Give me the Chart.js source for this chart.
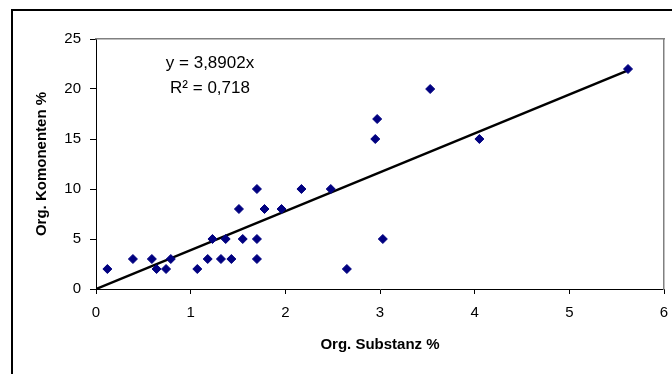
<!DOCTYPE html>
<html>
<head>
<meta charset="utf-8">
<script src="https://cdn.jsdelivr.net/npm/chart.js@4.4.1/dist/chart.umd.min.js"></script>
<style>
  html, body { margin: 0; padding: 0; background: #fff; overflow: hidden; }
  #wrap { width: 672px; height: 374px; overflow: hidden; }
  #chart { display: block; }
</style>
</head>
<body>
<div id="wrap"><canvas id="chart" width="672" height="374"></canvas></div>
<script>
// Data
const orgSubstanz = [0.12, 0.39, 0.59, 0.64, 0.74, 0.79, 1.07, 1.18, 1.23, 1.32, 1.37, 1.43,
    1.51, 1.55, 1.70, 1.70, 1.70, 1.78, 1.96, 2.17, 2.48, 2.65, 2.95, 2.97, 3.03, 3.53, 4.05, 5.62];
const orgKomponenten = [2, 3, 3, 2, 2, 3, 2, 3, 5, 3, 5, 3,
    8, 5, 10, 5, 3, 8, 8, 10, 10, 2, 15, 17, 5, 20, 15, 22];
const trendSlope = 3.8902;
const trendR2 = '0,718';
const xTicks = [0, 1, 2, 3, 4, 5, 6];
const yTicks = [0, 5, 10, 15, 20, 25];

const FONT = "'Liberation Sans', Arial, sans-serif";

document.addEventListener('DOMContentLoaded', () => {
    const points = orgSubstanz.map((x, i) => ({ x: x, y: orgKomponenten[i] }));
    const maxX = Math.max(...orgSubstanz);
    const trend = [{ x: 0, y: 0 }, { x: maxX, y: trendSlope * maxX }];

    // outer chart border + equation text
    const decor = {
        id: 'decor',
        afterDraw(chart) {
            const { ctx } = chart;
            ctx.save();
            ctx.strokeStyle = '#000';
            ctx.lineWidth = 2;
            ctx.beginPath();
            ctx.moveTo(12, 374);
            ctx.lineTo(12, 10);
            ctx.lineTo(672, 10);
            ctx.stroke();
            ctx.fillStyle = '#000';
            ctx.font = '17px ' + FONT;
            ctx.textAlign = 'center';
            ctx.textBaseline = 'middle';
            const eq = 'y = ' + trendSlope.toString().replace('.', ',') + 'x';
            ctx.fillText(eq, 210, 63);
            ctx.fillText('R\u00B2 = ' + trendR2, 210, 88);
            ctx.restore();
        }
    };

    // empty top/right axes only to draw the gray plot frame
    const frameAxis = (pos, min, max) => ({
        type: 'linear',
        position: pos,
        min: min,
        max: max,
        afterFit: (s) => {
            if (s.isHorizontal()) s.height = 0; else s.width = 0;
            s.paddingLeft = 0; s.paddingRight = 0; s.paddingTop = 0; s.paddingBottom = 0;
        },
        grid: { display: false, drawTicks: false },
        ticks: { display: false },
        border: { display: true, color: '#808080', width: 1.5 }
    });

    new Chart(document.getElementById('chart'), {
        type: 'scatter',
        data: {
            datasets: [{
                label: 'Proben',
                data: points,
                pointStyle: 'rectRot',
                radius: 4.5,
                backgroundColor: '#000080',
                borderColor: '#000080',
                borderWidth: 1,
                order: 1
            }, {
                type: 'line',
                label: 'Trend',
                data: trend,
                borderColor: '#000',
                borderWidth: 2.5,
                pointRadius: 0,
                fill: false,
                order: 2
            }]
        },
        options: {
            responsive: false,
            animation: false,
            events: [],
            layout: { padding: { left: 0, top: 39, right: 8, bottom: 0 } },
            plugins: {
                legend: { display: false },
                tooltip: { enabled: false }
            },
            scales: {
                x: {
                    type: 'linear',
                    min: 0,
                    max: 6,
                    afterFit: (s) => { s.height = 85; s.paddingRight = 0; s.paddingLeft = 0; },
                    afterBuildTicks: (s) => { s.ticks = xTicks.map(v => ({ value: v })); },
                    grid: { drawOnChartArea: false, drawTicks: true, tickLength: 5, color: '#000' },
                    border: { display: true, color: '#000', width: 1 },
                    ticks: { color: '#000', padding: 10, maxRotation: 0, font: { family: FONT, size: 15 } },
                    title: {
                        display: true,
                        text: 'Org. Substanz %',
                        color: '#000',
                        font: { family: FONT, size: 15, weight: 'bold' },
                        padding: { top: 0, bottom: 20 }
                    }
                },
                y: {
                    type: 'linear',
                    min: 0,
                    max: 25,
                    afterFit: (s) => { s.width = 96; },
                    afterBuildTicks: (s) => { s.ticks = yTicks.map(v => ({ value: v })); },
                    grid: { drawOnChartArea: false, drawTicks: true, tickLength: 6, color: '#000' },
                    border: { display: true, color: '#000', width: 1 },
                    ticks: { color: '#000', padding: 9, font: { family: FONT, size: 15 } },
                    title: {
                        display: true,
                        text: 'Org. Komonenten %',
                        color: '#000',
                        font: { family: FONT, size: 15, weight: 'bold' },
                        padding: { top: 33, bottom: 0 }
                    }
                },
                xTop: frameAxis('top', 0, 6),
                yRight: frameAxis('right', 0, 25)
            }
        },
        plugins: [decor]
    });
});
</script>
</body>
</html>
